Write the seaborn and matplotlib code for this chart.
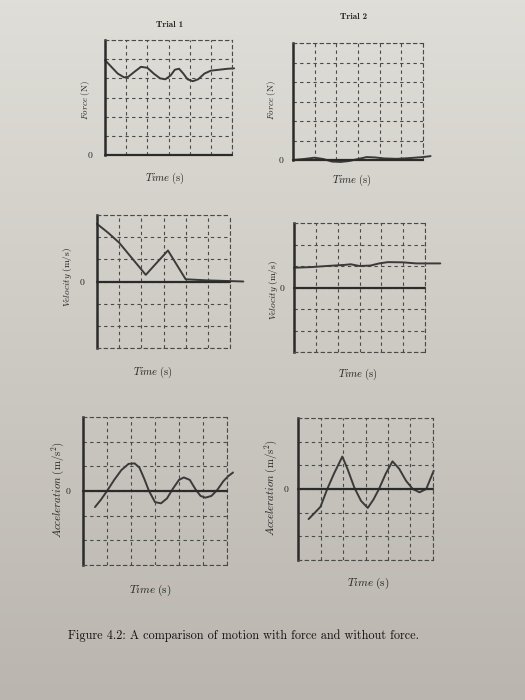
import numpy as np
import pandas as pd
import seaborn as sns
import matplotlib.pyplot as plt

# ---- values ----
force1_t = [0, 0.3, 0.6, 0.9, 1.1, 1.4, 1.7, 2.0, 2.3, 2.6, 2.85, 3.1, 3.3, 3.5, 3.7, 3.9, 4.15, 4.4, 4.7, 5.0, 5.4, 5.8, 6.1]
force1_y = [4.95, 4.6, 4.25, 4.05, 4.08, 4.35, 4.6, 4.55, 4.25, 4.0, 3.95, 4.15, 4.45, 4.5, 4.25, 3.95, 3.85, 3.95, 4.25, 4.4, 4.45, 4.5, 4.52]

force2_t = [0, 0.5, 1.0, 1.4, 1.8, 2.2, 2.6, 3.0, 3.4, 3.8, 4.2, 4.8, 5.4, 6.0, 6.35]
force2_y = [0, 0.05, 0.12, 0.05, -0.08, -0.1, -0.05, 0.05, 0.15, 0.13, 0.08, 0.06, 0.1, 0.15, 0.2]

vel1_t = [0, 0.5, 1.0, 2.2, 3.2, 4.0, 5.0, 6.6]
vel1_y = [2.6, 2.2, 1.75, 0.3, 1.4, 0.1, 0.05, 0.0]

vel2_t = [0, 0.8, 1.5, 2.3, 2.6, 3.0, 3.5, 3.9, 4.3, 5.0, 5.6, 6.7]
vel2_y = [0.92, 0.95, 1.0, 1.05, 1.08, 1.0, 1.02, 1.12, 1.18, 1.17, 1.12, 1.12]

acc1_t = [0.5, 0.75, 1.0, 1.3, 1.6, 1.9, 2.15, 2.35, 2.55, 2.75, 3.0, 3.25, 3.5, 3.75, 4.0, 4.2, 4.45, 4.7, 4.9, 5.1, 5.35, 5.6, 5.85, 6.05, 6.25]
acc1_y = [-0.65, -0.35, 0.0, 0.45, 0.85, 1.1, 1.12, 0.95, 0.5, 0.0, -0.45, -0.5, -0.3, 0.1, 0.45, 0.55, 0.45, 0.05, -0.2, -0.27, -0.2, 0.05, 0.4, 0.6, 0.75]

acc2_t = [0.47, 0.75, 1.0, 1.3, 1.6, 1.97, 2.2, 2.5, 2.8, 3.1, 3.35, 3.6, 3.9, 4.2, 4.5, 4.8, 5.1, 5.4, 5.7, 6.03]
acc2_y = [-1.27, -1.0, -0.75, 0.0, 0.65, 1.37, 0.85, 0.07, -0.5, -0.8, -0.45, 0.0, 0.65, 1.17, 0.85, 0.35, 0.0, -0.14, 0.0, 0.77]

trials = ['Trial 1', 'Trial 2']
caption = 'Figure 4.2: A comparison of motion with force and without force.'

sns.set_style('white')
plt.rcParams['mathtext.fontset'] = 'cm'

W, H = 525, 700
fig = plt.figure(figsize=(W / 100, H / 100), dpi=100)

# paper background (photo is lighter at the top)
bg = fig.add_axes([0, 0, 1, 1], zorder=-10)
shade = np.linspace(0, 1, 200)[:, None]
top = np.array([224, 222, 216]) / 255
bot = np.array([186, 182, 175]) / 255
img = top[None, None, :] * (1 - shade[..., None]) + bot[None, None, :] * shade[..., None]
bg.imshow(np.repeat(img, 2, axis=1), aspect='auto', extent=[0, 1, 0, 1])
bg.axis('off')

INK = '#2b2b2b'
GRID = '#4a4a4a'
DASH = (0, (3, 3))


def make_ax(box, ylim, ytks, pad=9, solid_bottom=False):
    # box given in pixels: left, top, right, bottom
    l, t, r, b = box
    ax = fig.add_axes([l / W, 1 - b / H, (r - l) / W, (b - t) / H])
    ax.set_facecolor('none')
    ax.set_xlim(0, 6)
    ax.set_ylim(*ylim)
    ax.set_xticks(range(7))
    ax.set_yticks(ytks)
    ax.set_xticklabels([])
    ax.set_yticklabels(['0' if v == 0 else '' for v in ytks], fontfamily='cmr10', fontsize=7)
    ax.tick_params(length=0, pad=pad)
    ax.grid(True, color=GRID, lw=0.8, linestyle=DASH)
    for s in ['top', 'right', 'bottom']:
        ax.spines[s].set_color(GRID)
        ax.spines[s].set_linewidth(0.8)
        ax.spines[s].set_linestyle(DASH)
    if solid_bottom:
        ax.spines['bottom'].set_visible(False)
    ax.spines['left'].set_color(INK)
    ax.spines['left'].set_linewidth(1.8)
    return ax


def curve(ax, t, y):
    df = pd.DataFrame({'t': t, 'y': y})
    sns.lineplot(data=df, x='t', y='y', ax=ax, color='#3a3a3a', lw=1.4,
                 sort=False, estimator=None, clip_on=False)
    ax.set_xlabel('')
    ax.set_ylabel('')


def zero_line(ax):
    ax.plot([0, 6], [0, 0], color=INK, lw=1.6, clip_on=False, zorder=3)


# force row
ax = make_ax((105, 40, 232, 155), (0, 6), range(7), solid_bottom=True)
curve(ax, force1_t, force1_y)
zero_line(ax)
ax = make_ax((293, 43, 423, 160), (0, 6), range(7), pad=7, solid_bottom=True)
curve(ax, force2_t, force2_y)
zero_line(ax)

# velocity row
ax = make_ax((97, 215, 230, 348), (-3, 3), range(-3, 4))
curve(ax, vel1_t, vel1_y)
zero_line(ax)
ax = make_ax((294, 223, 425, 352), (-3, 3), range(-3, 4), pad=7)
curve(ax, vel2_t, vel2_y)
zero_line(ax)

# acceleration row
ax = make_ax((83, 417, 227, 565), (-3, 3), range(-3, 4))
curve(ax, acc1_t, acc1_y)
zero_line(ax)
ax = make_ax((298, 418, 433, 560), (-3, 3), range(-3, 4), pad=7)
curve(ax, acc2_t, acc2_y)
zero_line(ax)

# text on the page
fig.text(170 / W, 1 - 25 / H, trials[0], fontfamily='cmb10', fontsize=6.5, ha='center', va='center')
fig.text(354 / W, 1 - 17 / H, trials[1], fontfamily='cmb10', fontsize=6.5, ha='center', va='center')

xlab = r'$Time\ \mathrm{(s)}$'
for x, y, fs in [(165, 178, 7.5), (352, 180, 7.5), (153, 372, 7.5), (358, 374, 7.5), (150, 590, 8), (368, 583, 8)]:
    fig.text(x / W, 1 - y / H, xlab, fontsize=fs, ha='center', va='center', color='#222')

ylabs = [(85, 100, r'$Force\ \mathrm{(N)}$', 6.5), (271, 100, r'$Force\ \mathrm{(N)}$', 6.5),
         (68, 277, r'$Velocity\ \mathrm{(m/s)}$', 6.8), (273, 290, r'$Velocity\ \mathrm{(m/s)}$', 6.8),
         (58, 490, r'$Acceleration\ \mathrm{(m/s^2)}$', 7.8), (271, 488, r'$Acceleration\ \mathrm{(m/s^2)}$', 7.8)]
for x, y, s, fs in ylabs:
    fig.text(x / W, 1 - y / H, s, fontsize=fs, rotation=90, ha='center', va='center', color='#222')

fig.text(243 / W, 1 - 636 / H, caption, fontfamily='cmr10', fontsize=8.8, ha='center', va='center', color='#111')

fig.savefig('out.png', dpi=100)
